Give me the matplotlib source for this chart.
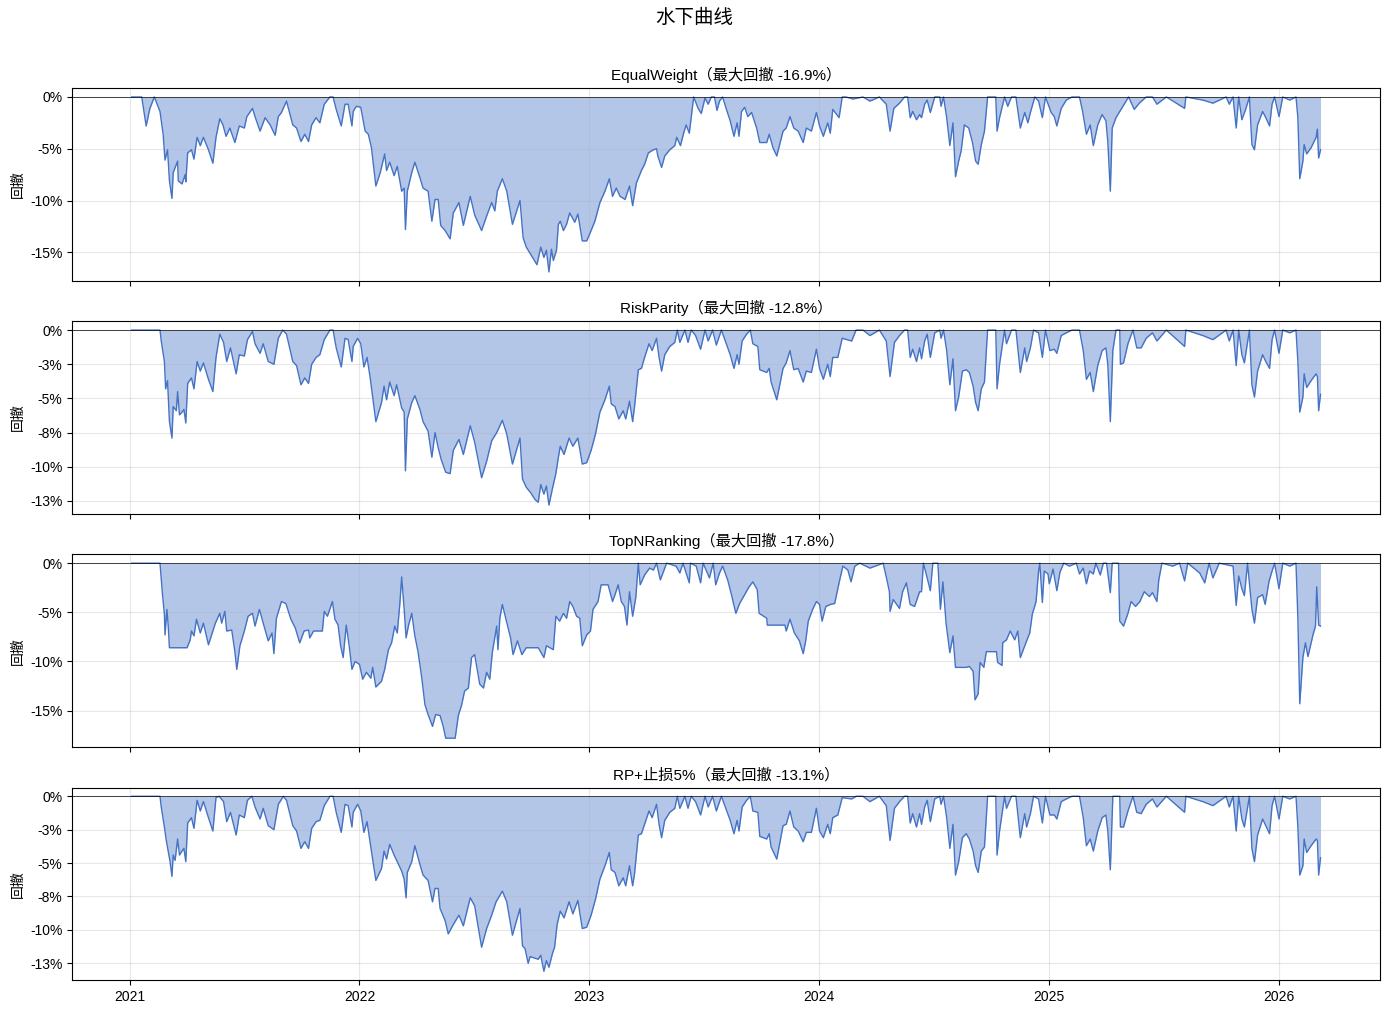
import matplotlib.pyplot as plt
import matplotlib.dates as mdates
import numpy as np
import pandas as pd

plt.rcParams['font.family'] = ['Liberation Sans', 'Noto Sans CJK SC']

START = pd.Timestamp('2021-01-01')

# (calendar days since START, drawdown in %)
ew_points = [
    (3, 0), (19, 0), (26, -2.8), (32, -1.1), (39, 0), (48, -1.4), (53, -3.6), (56, -6.1),
    (60, -5.1), (63, -8.1), (67, -9.8), (69, -7.3), (76, -6.2), (77, -8.1), (83, -8.4), (88, -7.5),
    (89, -8.2), (92, -5.4), (98, -5.1), (102, -6.0), (107, -3.9), (112, -4.7), (117, -3.9), (125, -5.1),
    (132, -6.4), (137, -3.9), (143, -2.1), (148, -2.7), (153, -3.8), (159, -3.0), (167, -4.4), (174, -2.8),
    (182, -3.0), (186, -1.9), (195, -1.1), (199, -1.9), (207, -3.3), (215, -2.0), (223, -2.7), (231, -3.7),
    (236, -1.9), (241, -1.5), (249, -0.4), (259, -2.7), (265, -3.0), (272, -4.3), (278, -3.6), (284, -4.3),
    (289, -2.7), (296, -2.0), (302, -2.5), (309, -0.7), (318, 0), (323, 0), (328, -1.2), (336, -2.8),
    (342, -0.7), (347, -0.7), (353, -2.8), (355, -1.4), (360, -0.9), (367, -1.0), (374, -3.3), (379, -3.6),
    (384, -4.9), (391, -8.6), (398, -7.3), (405, -5.5), (408, -7.1), (413, -6.3), (420, -7.6), (425, -6.7),
    (432, -9.1), (436, -8.8), (438, -12.8), (441, -9.1), (448, -7.3), (453, -6.3), (461, -7.8), (466, -8.8),
    (474, -9.1), (480, -12.0), (485, -9.9), (490, -9.9), (494, -12.4), (501, -12.9), (509, -13.7), (514, -11.2),
    (523, -10.2), (530, -12.4), (541, -9.6), (548, -11.4), (559, -12.9), (567, -11.5), (575, -10.2), (580, -11.0),
    (584, -9.1), (592, -7.9), (599, -9.1), (608, -12.3), (620, -10.0), (625, -13.6), (630, -14.5), (635, -15.0),
    (641, -15.6), (647, -16.2), (653, -14.5), (658, -15.5), (662, -14.8), (666, -16.9), (670, -14.7), (673, -15.8),
    (678, -14.8), (681, -12.3), (684, -12.0), (689, -12.9), (694, -12.3), (699, -11.2), (707, -12.1), (712, -11.3),
    (719, -13.9), (726, -13.9), (731, -13.2), (739, -12.0), (747, -10.2), (755, -9.1), (762, -7.9), (767, -9.6),
    (773, -8.8), (779, -9.6), (787, -9.9), (794, -8.6), (799, -10.5), (805, -8.3), (813, -7.1), (818, -6.5),
    (824, -5.4), (832, -5.1), (837, -5.0), (839, -5.7), (845, -6.8), (850, -5.7), (858, -5.1), (866, -4.7),
    (869, -3.9), (875, -4.7), (880, -3.5), (884, -2.7), (889, -3.5), (892, -2.0), (896, 0), (903, -1.1),
    (908, -1.6), (914, -0.1), (919, -0.7), (924, 0), (929, 0), (933, -1.3), (937, -0.4), (942, 0),
    (948, -1.2), (954, -2.3), (960, -3.8), (965, -2.5), (968, -3.8), (972, -1.4), (977, -1.0), (982, -1.9),
    (988, -1.5), (996, -3.0), (1001, -4.4), (1012, -4.4), (1016, -3.6), (1022, -4.9), (1028, -5.7), (1038, -3.3),
    (1043, -3.0), (1049, -1.9), (1055, -3.0), (1062, -3.3), (1070, -4.4), (1075, -3.0), (1083, -3.3), (1091, -1.5),
    (1096, -2.8), (1102, -3.8), (1109, -2.5), (1113, -3.5), (1117, -1.2), (1127, -2.0), (1132, 0), (1138, 0),
    (1149, -0.2), (1165, 0), (1176, -0.4), (1191, 0), (1202, -0.7), (1208, -3.3), (1214, -1.1), (1223, -0.6),
    (1231, 0), (1236, 0), (1240, -2.0), (1244, -1.4), (1250, -2.2), (1255, -1.7), (1258, -2.0), (1263, -0.7),
    (1267, -0.3), (1272, -1.5), (1279, 0), (1287, 0), (1289, -0.9), (1293, 0), (1298, -2.0), (1303, -4.7),
    (1308, -2.5), (1312, -7.7), (1317, -6.2), (1321, -5.2), (1326, -2.7), (1333, -3.0), (1339, -4.4), (1344, -6.2),
    (1348, -6.5), (1353, -4.6), (1358, -3.3), (1363, 0), (1376, 0), (1378, -3.3), (1382, -2.0), (1390, 0),
    (1395, -0.9), (1401, 0), (1408, 0), (1415, -3.0), (1422, -1.5), (1427, -2.5), (1431, -1.5), (1438, 0),
    (1444, -0.4), (1450, -2.0), (1455, 0), (1464, -1.5), (1469, -1.9), (1473, -2.8), (1480, -1.1), (1488, -0.3),
    (1497, 0), (1509, 0), (1514, -1.4), (1520, -3.6), (1526, -2.7), (1531, -4.7), (1538, -2.7), (1545, -1.7),
    (1551, -2.3), (1554, -4.3), (1558, -9.1), (1561, -3.0), (1567, -2.0), (1573, -1.4), (1580, -0.7), (1587, 0),
    (1596, -1.2), (1604, -0.6), (1615, 0), (1625, 0), (1632, -0.7), (1647, 0), (1676, -1.1), (1678, 0),
    (1705, -0.3), (1721, -0.6), (1742, 0), (1747, -0.7), (1753, 0), (1758, -3.0), (1762, 0), (1767, -2.2),
    (1773, -1.2), (1779, 0), (1783, -4.6), (1787, -5.1), (1792, -2.7), (1800, -1.4), (1805, -2.0), (1811, -2.8),
    (1815, -0.7), (1819, 0), (1826, -1.9), (1832, 0), (1843, -0.3), (1853, 0), (1856, -2.0), (1859, -7.9),
    (1864, -6.2), (1866, -4.6), (1870, -5.5), (1877, -4.9), (1885, -3.9), (1887, -3.1), (1889, -5.9), (1892, -5.1),
]

rp_points = [
    (3, 0), (48, 0), (50, -0.8), (55, -2.3), (57, -4.3), (60, -3.7), (63, -6.7), (67, -7.9),
    (69, -5.6), (74, -5.9), (76, -4.5), (79, -6.2), (83, -6.0), (86, -5.8), (89, -6.8), (92, -3.9),
    (98, -3.5), (102, -4.3), (107, -2.3), (112, -3.0), (117, -2.4), (125, -3.6), (132, -4.5), (137, -2.0),
    (143, -0.3), (149, -0.9), (154, -2.3), (160, -1.3), (169, -3.2), (174, -1.8), (182, -1.9), (187, -0.7),
    (195, -0.1), (199, -1.0), (207, -1.7), (212, -1.0), (220, -2.3), (229, -2.5), (236, -0.6), (243, 0),
    (249, -0.3), (259, -2.3), (265, -2.6), (272, -4.0), (278, -3.5), (284, -3.9), (289, -2.5), (296, -2.0),
    (302, -1.8), (309, -0.7), (318, 0), (323, 0), (328, -1.3), (336, -2.7), (342, -0.6), (347, -0.7),
    (353, -2.3), (355, -1.2), (362, -0.6), (367, -1.0), (372, -2.7), (377, -2.0), (382, -3.5), (391, -6.7),
    (400, -5.3), (404, -4.1), (408, -5.1), (413, -3.8), (420, -4.8), (424, -4.0), (432, -5.7), (436, -6.0),
    (438, -10.3), (441, -6.5), (448, -5.3), (453, -4.8), (461, -5.8), (466, -6.7), (474, -7.4), (480, -9.3),
    (485, -7.5), (490, -8.6), (495, -9.5), (502, -10.4), (509, -10.5), (514, -8.8), (523, -8.0), (530, -9.1),
    (541, -7.0), (548, -8.2), (559, -10.8), (567, -9.6), (575, -8.1), (583, -7.5), (592, -6.6), (599, -7.6),
    (608, -9.8), (620, -7.9), (624, -10.9), (630, -11.5), (637, -11.9), (644, -12.4), (649, -12.6), (653, -11.3),
    (658, -12.0), (662, -11.4), (666, -12.8), (672, -11.5), (677, -10.5), (681, -9.3), (684, -8.5), (690, -9.1),
    (698, -7.9), (704, -8.5), (712, -7.9), (719, -9.8), (726, -9.7), (733, -8.8), (740, -7.6), (747, -6.0),
    (755, -5.1), (762, -4.1), (765, -5.4), (771, -5.6), (777, -6.5), (784, -5.9), (788, -6.5), (794, -5.2),
    (799, -6.7), (802, -5.6), (808, -2.9), (813, -2.8), (818, -2.0), (825, -1.0), (830, -1.5), (837, -0.6),
    (841, -2.0), (845, -3.0), (850, -1.8), (858, -1.2), (866, -0.9), (870, 0), (874, -0.9), (882, 0),
    (887, -0.9), (892, 0), (899, -0.4), (907, -1.4), (914, 0), (919, -0.8), (926, 0), (932, -1.1),
    (940, 0), (947, -0.9), (954, -1.8), (960, -2.8), (965, -1.8), (968, -2.5), (973, -0.8), (980, -0.3),
    (986, 0), (990, -1.0), (998, -1.2), (1001, -2.9), (1012, -3.1), (1016, -2.8), (1019, -3.8), (1028, -5.1),
    (1038, -2.8), (1043, -2.4), (1049, -1.5), (1055, -2.9), (1062, -2.8), (1070, -3.8), (1075, -3.0), (1083, -3.1),
    (1091, -1.4), (1096, -2.8), (1102, -3.6), (1109, -2.5), (1113, -3.4), (1117, -2.0), (1125, -2.0), (1132, -0.6),
    (1147, -0.8), (1154, 0), (1165, 0), (1176, -0.4), (1191, 0), (1202, -0.8), (1208, -3.4), (1215, -0.9),
    (1223, -0.4), (1231, 0), (1236, 0), (1240, -2.0), (1244, -1.4), (1250, -2.3), (1255, -1.3), (1258, -2.1),
    (1263, -0.8), (1267, -0.3), (1272, -2.0), (1279, -0.2), (1287, 0), (1289, -0.6), (1293, 0), (1298, -1.5),
    (1303, -4.0), (1308, -2.1), (1312, -5.9), (1317, -4.9), (1323, -3.0), (1329, -2.9), (1334, -3.1), (1340, -4.1),
    (1344, -5.3), (1348, -5.9), (1353, -4.3), (1358, -3.8), (1363, 0), (1376, 0), (1378, -4.3), (1382, -2.5),
    (1390, 0), (1393, -1.0), (1401, 0), (1408, 0), (1415, -3.1), (1422, -1.3), (1425, -2.3), (1431, -1.3),
    (1436, 0), (1444, -0.2), (1450, -2.0), (1455, 0), (1462, -1.5), (1469, -1.4), (1473, -1.7), (1480, -0.4),
    (1488, -0.2), (1497, 0), (1509, 0), (1515, -1.5), (1520, -3.6), (1526, -3.1), (1531, -4.5), (1538, -2.6),
    (1545, -1.5), (1551, -1.3), (1554, -2.5), (1558, -6.7), (1562, -1.5), (1567, 0), (1573, 0), (1574, -2.5),
    (1579, -2.4), (1586, -1.0), (1594, 0), (1600, -1.3), (1607, -1.3), (1615, -0.6), (1625, -0.2), (1632, -0.8),
    (1647, 0), (1676, -1.2), (1678, 0), (1705, -0.4), (1721, -0.7), (1742, 0), (1747, -0.8), (1753, 0),
    (1758, -2.6), (1762, 0), (1767, -1.8), (1771, -2.4), (1779, 0), (1783, -4.0), (1787, -4.9), (1792, -3.0),
    (1800, -1.8), (1805, -2.3), (1811, -2.8), (1815, -0.7), (1819, 0), (1826, -1.7), (1832, 0), (1843, -0.2),
    (1853, 0), (1856, -2.3), (1859, -6.0), (1864, -4.9), (1866, -3.2), (1870, -4.2), (1877, -3.7), (1885, -3.2),
    (1887, -3.4), (1889, -5.9), (1892, -4.7),
]

topn_points = [
    (3, 0), (48, 0), (52, -3.2), (55, -5.2), (56, -7.3), (59, -4.7), (61, -6.3), (63, -8.6),
    (91, -8.6), (96, -7.8), (98, -6.9), (102, -7.4), (106, -5.7), (112, -7.1), (117, -6.1), (125, -8.3),
    (130, -7.3), (136, -6.1), (143, -5.1), (146, -6.1), (151, -4.9), (154, -6.9), (162, -6.8), (167, -9.0),
    (170, -10.8), (175, -8.4), (182, -6.9), (188, -5.4), (195, -5.1), (199, -6.4), (206, -4.7), (212, -6.1),
    (220, -7.9), (226, -7.1), (229, -9.2), (233, -5.6), (241, -3.9), (248, -4.1), (256, -5.7), (263, -6.6),
    (270, -8.1), (277, -6.9), (284, -6.8), (286, -7.6), (292, -6.9), (306, -6.9), (309, -4.9), (314, -5.4),
    (322, -3.9), (326, -5.7), (331, -6.3), (335, -8.4), (339, -9.6), (344, -6.3), (349, -8.6), (353, -10.8),
    (358, -10.0), (365, -10.3), (370, -11.8), (376, -11.1), (383, -11.7), (386, -10.6), (391, -12.6), (400, -12.0),
    (405, -10.8), (411, -8.8), (416, -8.1), (421, -6.4), (425, -7.1), (429, -4.2), (432, -1.4), (436, -4.7),
    (439, -7.6), (443, -6.3), (448, -5.1), (453, -7.4), (458, -9.0), (464, -11.7), (469, -14.4), (474, -15.4),
    (481, -16.6), (486, -15.4), (493, -15.5), (498, -16.6), (502, -17.8), (517, -17.8), (522, -15.5), (527, -14.5),
    (532, -13.0), (538, -12.7), (543, -9.6), (548, -9.3), (556, -12.3), (562, -12.7), (567, -11.1), (572, -11.8),
    (576, -9.1), (583, -6.4), (585, -8.8), (588, -5.6), (592, -4.2), (600, -6.3), (605, -7.6), (609, -9.3),
    (616, -7.9), (623, -9.3), (630, -8.6), (649, -8.6), (658, -9.6), (662, -8.4), (673, -8.8), (677, -5.4),
    (683, -5.9), (689, -5.1), (694, -5.6), (699, -3.9), (704, -4.4), (710, -5.4), (715, -5.6), (719, -8.4),
    (726, -7.3), (732, -6.9), (736, -4.7), (744, -3.9), (749, -2.2), (760, -2.2), (767, -3.9), (771, -3.2),
    (776, -2.2), (781, -3.9), (786, -4.4), (790, -6.3), (794, -2.9), (799, -5.4), (804, -3.5), (808, 0),
    (811, -2.2), (818, -1.2), (826, -0.5), (832, -0.7), (837, 0), (843, -1.7), (853, 0), (868, -0.3),
    (874, -1.0), (879, 0), (889, -2.0), (891, 0), (900, -0.3), (907, -2.0), (911, 0), (921, -1.5),
    (927, 0), (931, -2.2), (937, -1.0), (942, -0.3), (950, -1.7), (956, -3.2), (963, -5.1), (969, -4.1),
    (977, -3.2), (984, -2.4), (990, -1.9), (997, -2.7), (1000, -5.1), (1012, -5.6), (1013, -6.3), (1041, -6.3),
    (1043, -6.9), (1049, -5.7), (1056, -7.1), (1064, -7.9), (1070, -9.2), (1074, -7.9), (1078, -5.9), (1085, -4.7),
    (1091, -3.9), (1096, -4.2), (1100, -5.9), (1106, -4.4), (1113, -4.2), (1120, -4.1), (1127, -2.0), (1133, -0.3),
    (1141, -0.7), (1146, -1.9), (1152, -0.3), (1160, 0), (1176, -0.5), (1197, 0), (1202, -1.4), (1207, -2.9),
    (1208, -4.9), (1213, -3.7), (1223, -4.6), (1228, -2.9), (1234, -2.0), (1240, -4.2), (1247, -4.4), (1255, -2.9),
    (1258, -2.9), (1261, 0), (1267, -1.5), (1272, -2.8), (1276, 0), (1284, 0), (1288, -4.7), (1292, -1.9),
    (1297, -6.1), (1303, -9.1), (1308, -7.4), (1312, -10.6), (1329, -10.6), (1334, -10.5), (1340, -11.0), (1343, -13.9),
    (1348, -13.3), (1351, -10.1), (1357, -10.6), (1361, -9.0), (1377, -9.0), (1379, -10.1), (1386, -10.4), (1387, -8.1),
    (1393, -7.8), (1399, -6.9), (1406, -7.8), (1411, -6.9), (1415, -9.6), (1422, -8.4), (1425, -7.9), (1430, -7.1),
    (1434, -5.2), (1440, -3.9), (1444, -0.8), (1446, 0), (1450, -4.0), (1453, -0.8), (1459, -1.1), (1461, -2.1),
    (1467, -0.6), (1473, -2.8), (1478, -0.9), (1484, 0), (1493, -0.3), (1504, 0), (1509, -1.1), (1515, -0.5),
    (1520, -2.1), (1525, -0.8), (1531, -1.1), (1535, 0), (1542, -1.2), (1547, 0), (1552, 0), (1558, -3.0),
    (1561, 0), (1571, 0), (1573, -5.9), (1579, -6.4), (1586, -5.1), (1591, -3.9), (1598, -4.4), (1605, -3.9),
    (1612, -2.9), (1620, -3.4), (1625, -3.0), (1632, -3.9), (1635, -1.7), (1640, 0), (1657, -0.3), (1668, 0),
    (1676, -1.8), (1681, 0), (1700, -1.0), (1708, -2.0), (1715, 0), (1721, -1.5), (1731, 0), (1753, -0.3),
    (1758, -4.3), (1762, -1.3), (1767, -2.6), (1771, -3.3), (1776, 0), (1783, -4.7), (1787, -6.1), (1792, -3.5),
    (1800, -3.2), (1804, -4.2), (1810, -1.9), (1815, -0.8), (1819, 0), (1826, -2.6), (1832, 0), (1843, -0.3),
    (1853, 0), (1856, -5.6), (1859, -14.3), (1864, -9.6), (1868, -8.1), (1872, -9.5), (1880, -7.3), (1884, -6.4),
    (1886, -2.4), (1889, -6.3), (1892, -6.4),
]

rps_points = [
    (3, 0), (48, 0), (50, -0.8), (55, -2.3), (58, -3.3), (61, -4.1), (64, -4.9), (67, -6.0),
    (69, -4.4), (72, -4.8), (76, -3.2), (79, -4.4), (83, -4.1), (86, -3.9), (89, -4.9), (92, -2.0),
    (98, -1.6), (102, -2.4), (107, -0.3), (112, -1.1), (117, -0.4), (125, -1.6), (132, -2.6), (137, -0.1),
    (142, 0), (149, -0.4), (154, -1.9), (160, -1.2), (169, -2.9), (174, -1.4), (182, -1.6), (187, -0.3),
    (194, 0), (199, -0.8), (207, -1.7), (212, -0.9), (220, -2.2), (229, -2.5), (236, -0.6), (244, 0),
    (249, -0.3), (259, -2.2), (265, -2.6), (272, -3.9), (278, -3.4), (284, -3.9), (289, -2.4), (296, -1.9),
    (302, -1.8), (309, -0.7), (318, 0), (323, 0), (328, -1.2), (336, -2.7), (342, -0.6), (347, -0.7),
    (353, -2.3), (355, -1.2), (362, -0.6), (367, -1.1), (372, -2.7), (377, -1.9), (382, -3.5), (391, -6.3),
    (400, -5.4), (404, -4.1), (408, -4.7), (413, -3.6), (420, -4.4), (424, -4.8), (432, -5.6), (436, -6.2),
    (439, -7.6), (441, -5.7), (448, -4.9), (453, -3.7), (461, -5.1), (466, -5.9), (474, -6.3), (481, -7.9),
    (485, -6.9), (490, -6.9), (493, -8.4), (501, -9.3), (506, -10.3), (514, -9.6), (523, -8.9), (530, -9.7),
    (541, -7.6), (548, -8.2), (559, -11.3), (567, -9.9), (575, -8.9), (582, -7.9), (592, -7.1), (599, -7.9),
    (608, -10.4), (620, -8.4), (624, -11.2), (628, -11.4), (633, -12.5), (636, -12.0), (649, -12.2), (653, -11.9),
    (658, -13.1), (662, -12.3), (666, -12.8), (672, -11.7), (675, -11.3), (679, -9.6), (684, -8.6), (690, -9.1),
    (698, -7.9), (704, -8.8), (712, -7.8), (719, -9.9), (726, -9.8), (733, -8.9), (740, -7.7), (747, -6.2),
    (755, -5.2), (762, -4.2), (765, -5.5), (771, -5.7), (777, -6.7), (784, -6.1), (788, -6.7), (794, -5.2),
    (799, -6.7), (802, -5.8), (808, -2.9), (813, -2.8), (818, -2.1), (825, -1.1), (830, -1.6), (837, -0.6),
    (841, -2.1), (845, -3.1), (850, -1.8), (858, -1.2), (866, -0.9), (870, 0), (874, -0.9), (882, 0),
    (887, -0.9), (892, 0), (899, -0.4), (907, -1.4), (914, 0), (919, -0.8), (926, 0), (932, -1.1),
    (940, 0), (947, -0.9), (954, -1.8), (960, -2.8), (965, -1.8), (968, -2.6), (973, -0.8), (980, -0.3),
    (986, 0), (990, -1.1), (998, -1.2), (1001, -3.0), (1012, -3.2), (1016, -2.8), (1019, -3.8), (1028, -4.7),
    (1038, -2.2), (1043, -2.1), (1049, -1.1), (1055, -2.3), (1062, -2.6), (1070, -3.4), (1075, -2.7), (1083, -2.7),
    (1091, -0.9), (1096, -2.6), (1102, -3.1), (1109, -2.1), (1113, -2.8), (1117, -1.6), (1125, -1.4), (1132, -0.1),
    (1147, -0.2), (1154, 0), (1165, 0), (1176, -0.4), (1191, 0), (1202, -0.7), (1208, -3.3), (1215, -0.9),
    (1223, -0.4), (1231, 0), (1236, 0), (1240, -2.0), (1244, -1.3), (1250, -2.3), (1255, -1.3), (1258, -2.1),
    (1263, -0.8), (1267, -0.3), (1272, -1.9), (1279, -0.2), (1287, 0), (1289, -0.6), (1293, 0), (1298, -1.6),
    (1303, -3.9), (1308, -2.1), (1312, -5.9), (1317, -4.9), (1323, -3.1), (1329, -2.8), (1334, -3.2), (1340, -4.1),
    (1344, -5.2), (1348, -5.7), (1353, -4.1), (1358, -3.8), (1363, 0), (1376, 0), (1378, -4.4), (1382, -2.6),
    (1390, 0), (1393, -0.9), (1401, 0), (1408, 0), (1415, -3.1), (1422, -1.3), (1425, -2.3), (1431, -1.3),
    (1436, 0), (1444, -0.2), (1450, -2.0), (1455, 0), (1462, -1.4), (1469, -1.4), (1473, -1.7), (1480, -0.4),
    (1488, -0.2), (1497, 0), (1509, 0), (1515, -1.6), (1520, -3.7), (1526, -3.2), (1531, -4.1), (1538, -2.6),
    (1545, -1.6), (1551, -1.4), (1554, -2.6), (1558, -5.5), (1562, 0), (1573, 0), (1574, -2.3), (1579, -2.3),
    (1586, -1.1), (1594, 0), (1600, -1.2), (1607, -1.3), (1615, -0.6), (1625, -0.2), (1632, -0.8), (1647, 0),
    (1676, -1.2), (1678, 0), (1705, -0.4), (1721, -0.7), (1742, 0), (1747, -0.8), (1753, 0), (1758, -2.6),
    (1762, 0), (1767, -1.7), (1771, -2.3), (1779, 0), (1783, -3.9), (1787, -4.9), (1792, -2.9), (1800, -1.7),
    (1805, -2.2), (1811, -2.8), (1815, -0.7), (1819, 0), (1826, -1.7), (1832, 0), (1843, -0.2), (1853, 0),
    (1856, -2.3), (1859, -5.9), (1864, -5.2), (1866, -3.2), (1870, -4.2), (1877, -3.7), (1885, -3.2), (1887, -3.3),
    (1889, -5.9), (1892, -4.6),
]

strategies = ['EqualWeight', 'RiskParity', 'TopNRanking', 'RP+止损5%']
all_points = [ew_points, rp_points, topn_points, rps_points]


def pct_label(v, pos):
    r = int(np.floor(abs(v) + 0.5))
    if v < 0 and r != 0:
        return f'-{r}%'
    return f'{r}%'


fig, axes = plt.subplots(4, 1, figsize=(13.89, 10.14), dpi=100, sharex=True)
fig.subplots_adjust(left=0.052, right=0.9935, top=0.913, bottom=0.0335, hspace=0.211)
fig.suptitle('水下曲线', fontsize=14, y=0.991)

for ax, name, pts in zip(axes, strategies, all_points):
    days, dd = zip(*pts)
    dates = START + pd.to_timedelta(np.array(days), unit='D')
    dd = np.array(dd)
    ax.fill_between(dates, dd, 0, color='#4472C4', alpha=0.4, linewidth=0)
    ax.plot(dates, dd, color='#4472C4', linewidth=1)
    ax.axhline(0, color='black', linewidth=0.5)
    ax.set_title(f'{name}（最大回撤 {dd.min():.1f}%）', fontsize=11)
    ax.set_ylabel('回撤', fontsize=10)
    ax.yaxis.set_major_formatter(plt.FuncFormatter(pct_label))
    ax.grid(True, alpha=0.3)

axes[-1].xaxis.set_major_locator(mdates.YearLocator())
axes[-1].xaxis.set_major_formatter(mdates.DateFormatter('%Y'))

fig.savefig('out.png', dpi=100)
